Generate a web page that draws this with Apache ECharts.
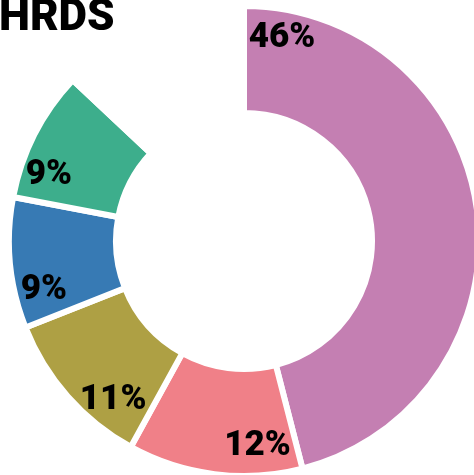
<!DOCTYPE html>
<html>
<head>
<meta charset="utf-8">
<script src="https://cdn.jsdelivr.net/npm/echarts@6/dist/echarts.min.js"></script>
<style>
  html, body { margin: 0; padding: 0; background: #fff; }
  #chart { width: 474px; height: 475px; }
</style>
</head>
<body>
<div id="chart"></div>
<script>
// slice data, clockwise from 12 o'clock
const sliceNames = ["Segment A", "Segment B", "Segment C", "Segment D", "Segment E", "Rest"];
const shareValues = [46, 12, 11, 9, 9, 13];
const sliceColors = ["#C47FB2", "#F08088", "#AEA044", "#377AB4", "#3DAE8C", "rgba(0,0,0,0)"];

const cx = 244;
const cy = 241;
const labelRadius = 206;
const total = shareValues.reduce((a, b) => a + b, 0);

const chart = echarts.init(document.getElementById("chart"));

const pieData = sliceNames.map((name, i) => ({
  name: name,
  value: shareValues[i],
  itemStyle: { color: sliceColors[i] },
  label: { show: i < 5 },
}));

chart.setOption({
  animation: false,
  title: {
    text: "HRDS",
    left: -6,
    top: -8,
    textStyle: {
      fontFamily: "Roboto",
      fontWeight: 900,
      fontSize: 44,
      color: "#000",
    },
  },
  series: [
    {
      type: "pie",
      center: [cx, cy],
      radius: [128, 235],
      startAngle: 90,
      clockwise: true,
      avoidLabelOverlap: false,
      silent: true,
      itemStyle: {
        borderColor: "#fff",
        borderWidth: 6,
      },
      label: {
        position: "inside",
        formatter: "{c}%",
        fontFamily: "Roboto",
        fontWeight: 900,
        fontSize: 35,
        color: "#000",
      },
      labelLine: { show: false },
      // labels sit just past the start edge of each slice, near the outer rim
      labelLayout: function (params) {
        const i = params.dataIndex;
        let before = 0;
        for (let k = 0; k < i; k++) before += shareValues[k];
        const start = (before / total) * Math.PI * 2;
        const ang = start + (params.labelRect.width / 2 + 5) / labelRadius;
        return {
          x: cx + labelRadius * Math.sin(ang),
          y: cy - labelRadius * Math.cos(ang),
          align: "center",
          verticalAlign: "middle",
        };
      },
      data: pieData,
    },
  ],
});
</script>
</body>
</html>
